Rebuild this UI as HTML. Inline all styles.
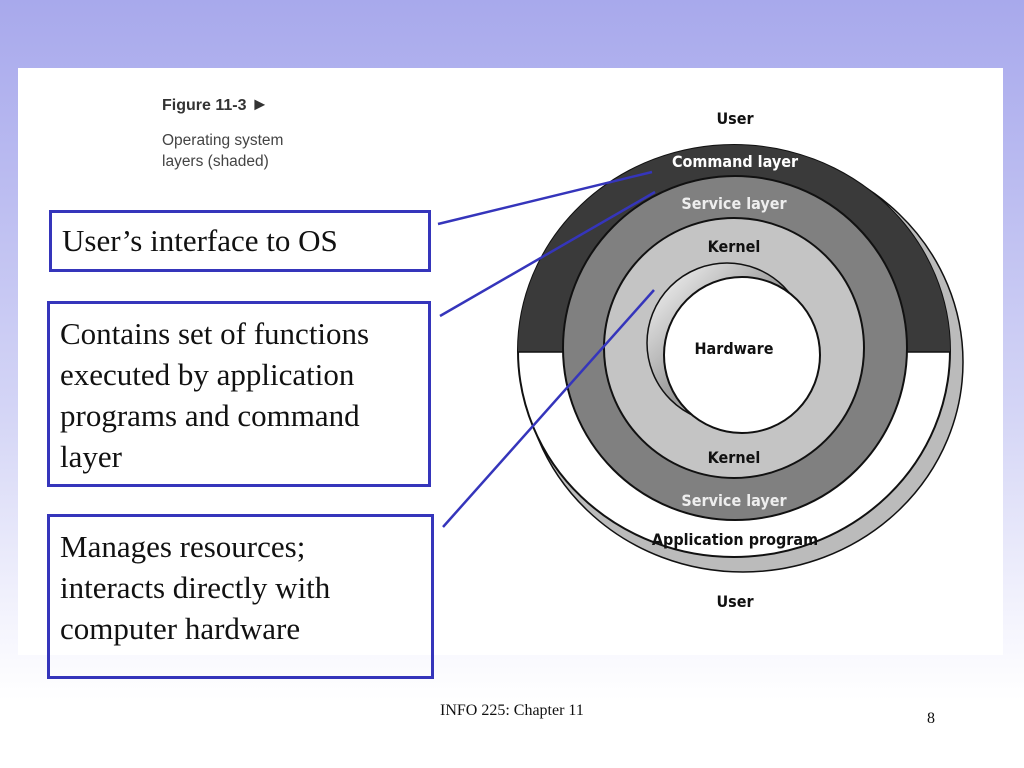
<!DOCTYPE html>
<html><head><meta charset="utf-8"><style>
body{margin:0;width:1024px;height:768px;overflow:hidden;position:relative;background:linear-gradient(#a8a9ec 0px,#b4b5ef 120px,#d5d6f6 420px,#f4f4fd 620px,#fff 700px);font-family:"Liberation Sans",sans-serif}
.panel{position:absolute;left:18px;top:68px;width:985px;height:587px;background:#fff}
.box{position:absolute;border:3px solid #3535bb;box-sizing:border-box;font-family:"Liberation Serif",serif;font-size:31px;color:#111;line-height:41px;padding:8px 0 0 10px;white-space:nowrap}
</style></head><body>
<div class="panel"></div>
<div style="position:absolute;left:162px;top:94px;font-weight:bold;font-size:16px;color:#333">Figure 11-3 <span style="font-size:18px">&#9658;</span></div>
<div style="position:absolute;left:162px;top:130px;font-size:15.5px;color:#444;line-height:21px">Operating system<br>layers (shaded)</div>
<div class="box" style="left:49px;top:210px;width:382px;height:62px;padding-top:7px">User’s interface to OS</div>
<div class="box" style="left:47px;top:301px;width:384px;height:186px;padding-top:9px">Contains set of functions<br>executed by application<br>programs and command<br>layer</div>
<div class="box" style="left:47px;top:514px;width:387px;height:165px;padding-top:9px">Manages resources;<br>interacts directly with<br>computer hardware</div>
<svg style="position:absolute;left:0;top:0" width="1024" height="768">
<defs>
<linearGradient id="g" x1="0" y1="0" x2="1" y2="1"><stop offset="0" stop-color="#fff"/><stop offset="0.5" stop-color="#999"/><stop offset="1" stop-color="#fff"/></linearGradient>
<clipPath id="top"><rect x="0" y="0" width="1024" height="352"/></clipPath>
</defs>
<ellipse cx="743" cy="362" rx="220" ry="210" fill="#bbb" stroke="#111" stroke-width="1.5"/>
<ellipse cx="734" cy="351" rx="216" ry="206" fill="#fff" stroke="#111" stroke-width="2"/>
<ellipse cx="734" cy="351" rx="216" ry="206" fill="#3a3a3a" clip-path="url(#top)"/>
<line x1="518" y1="352" x2="950" y2="352" stroke="#111" stroke-width="1.5"/>
<circle cx="735" cy="348" r="172" fill="#808080" stroke="#111" stroke-width="2"/>
<circle cx="734" cy="348" r="130" fill="#c4c4c4" stroke="#111" stroke-width="2"/>
<circle cx="727" cy="343" r="80" fill="url(#g)" stroke="#111" stroke-width="1.5"/>
<circle cx="742" cy="355" r="78" fill="#fff" stroke="#111" stroke-width="2"/>
<g font-weight="bold" font-size="16" text-anchor="middle" font-family="'DejaVu Sans Condensed','Liberation Sans Narrow','Liberation Sans',sans-serif">
<text x="735" y="124" fill="#111">User</text>
<text x="735" y="167" fill="#fff">Command layer</text>
<text x="734" y="209" fill="#eee">Service layer</text>
<text x="734" y="252" fill="#111">Kernel</text>
<text x="734" y="354" fill="#111">Hardware</text>
<text x="734" y="463" fill="#111">Kernel</text>
<text x="734" y="506" fill="#eee">Service layer</text>
<text x="735" y="545" fill="#111">Application program</text>
<text x="735" y="607" fill="#111">User</text>
</g>
<g stroke="#3535bb" stroke-width="2.5">
<line x1="438" y1="224" x2="652" y2="172"/>
<line x1="440" y1="316" x2="655" y2="192"/>
<line x1="443" y1="527" x2="654" y2="290"/>
</g>
</svg>
<div style="position:absolute;left:440px;top:702px;font-family:'Liberation Serif',serif;font-size:16px;color:#111">INFO 225: Chapter 11</div>
<div style="position:absolute;left:927px;top:710px;font-family:'Liberation Serif',serif;font-size:16px;color:#111">8</div>
</body></html>
